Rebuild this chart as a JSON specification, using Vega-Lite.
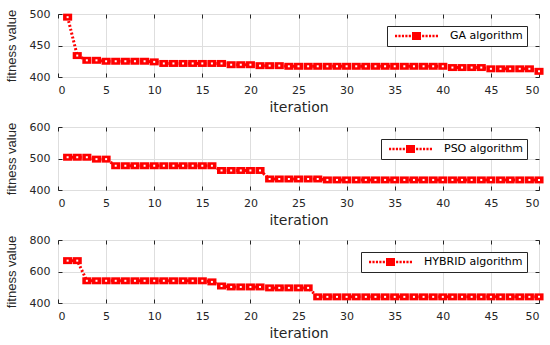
{
  "$schema": "https://vega.github.io/schema/vega-lite/v6.json",
  "padding": {"left": 4, "top": 7, "right": 5, "bottom": 0},
  "background": "white",
  "spacing": 50,
  "bounds": "flush",
  "datasets": {
    "ga": [
      {"it": 1, "f": 495, "alg": "GA algorithm"},
      {"it": 2, "f": 434, "alg": "GA algorithm"},
      {"it": 3, "f": 426.5, "alg": "GA algorithm"},
      {"it": 4, "f": 426.5, "alg": "GA algorithm"},
      {"it": 5, "f": 425, "alg": "GA algorithm"},
      {"it": 6, "f": 425, "alg": "GA algorithm"},
      {"it": 7, "f": 425, "alg": "GA algorithm"},
      {"it": 8, "f": 425, "alg": "GA algorithm"},
      {"it": 9, "f": 425, "alg": "GA algorithm"},
      {"it": 10, "f": 424, "alg": "GA algorithm"},
      {"it": 11, "f": 421.5, "alg": "GA algorithm"},
      {"it": 12, "f": 421.5, "alg": "GA algorithm"},
      {"it": 13, "f": 421.5, "alg": "GA algorithm"},
      {"it": 14, "f": 421.5, "alg": "GA algorithm"},
      {"it": 15, "f": 421.5, "alg": "GA algorithm"},
      {"it": 16, "f": 421.5, "alg": "GA algorithm"},
      {"it": 17, "f": 421.5, "alg": "GA algorithm"},
      {"it": 18, "f": 419.5, "alg": "GA algorithm"},
      {"it": 19, "f": 419.5, "alg": "GA algorithm"},
      {"it": 20, "f": 419.5, "alg": "GA algorithm"},
      {"it": 21, "f": 418, "alg": "GA algorithm"},
      {"it": 22, "f": 418, "alg": "GA algorithm"},
      {"it": 23, "f": 418, "alg": "GA algorithm"},
      {"it": 24, "f": 417, "alg": "GA algorithm"},
      {"it": 25, "f": 417, "alg": "GA algorithm"},
      {"it": 26, "f": 417, "alg": "GA algorithm"},
      {"it": 27, "f": 417, "alg": "GA algorithm"},
      {"it": 28, "f": 417, "alg": "GA algorithm"},
      {"it": 29, "f": 417, "alg": "GA algorithm"},
      {"it": 30, "f": 417, "alg": "GA algorithm"},
      {"it": 31, "f": 417, "alg": "GA algorithm"},
      {"it": 32, "f": 417, "alg": "GA algorithm"},
      {"it": 33, "f": 417, "alg": "GA algorithm"},
      {"it": 34, "f": 417, "alg": "GA algorithm"},
      {"it": 35, "f": 417, "alg": "GA algorithm"},
      {"it": 36, "f": 417, "alg": "GA algorithm"},
      {"it": 37, "f": 417, "alg": "GA algorithm"},
      {"it": 38, "f": 417, "alg": "GA algorithm"},
      {"it": 39, "f": 417, "alg": "GA algorithm"},
      {"it": 40, "f": 417, "alg": "GA algorithm"},
      {"it": 41, "f": 415, "alg": "GA algorithm"},
      {"it": 42, "f": 415, "alg": "GA algorithm"},
      {"it": 43, "f": 415, "alg": "GA algorithm"},
      {"it": 44, "f": 415, "alg": "GA algorithm"},
      {"it": 45, "f": 413, "alg": "GA algorithm"},
      {"it": 46, "f": 413, "alg": "GA algorithm"},
      {"it": 47, "f": 413, "alg": "GA algorithm"},
      {"it": 48, "f": 413, "alg": "GA algorithm"},
      {"it": 49, "f": 413, "alg": "GA algorithm"},
      {"it": 50, "f": 409, "alg": "GA algorithm"}
    ],
    "pso": [
      {"it": 1, "f": 504, "alg": "PSO algorithm"},
      {"it": 2, "f": 504, "alg": "PSO algorithm"},
      {"it": 3, "f": 504, "alg": "PSO algorithm"},
      {"it": 4, "f": 498, "alg": "PSO algorithm"},
      {"it": 5, "f": 498, "alg": "PSO algorithm"},
      {"it": 6, "f": 477, "alg": "PSO algorithm"},
      {"it": 7, "f": 477, "alg": "PSO algorithm"},
      {"it": 8, "f": 477, "alg": "PSO algorithm"},
      {"it": 9, "f": 477, "alg": "PSO algorithm"},
      {"it": 10, "f": 477, "alg": "PSO algorithm"},
      {"it": 11, "f": 477, "alg": "PSO algorithm"},
      {"it": 12, "f": 477, "alg": "PSO algorithm"},
      {"it": 13, "f": 477, "alg": "PSO algorithm"},
      {"it": 14, "f": 477, "alg": "PSO algorithm"},
      {"it": 15, "f": 477, "alg": "PSO algorithm"},
      {"it": 16, "f": 477, "alg": "PSO algorithm"},
      {"it": 17, "f": 462, "alg": "PSO algorithm"},
      {"it": 18, "f": 462, "alg": "PSO algorithm"},
      {"it": 19, "f": 462, "alg": "PSO algorithm"},
      {"it": 20, "f": 462, "alg": "PSO algorithm"},
      {"it": 21, "f": 462, "alg": "PSO algorithm"},
      {"it": 22, "f": 435, "alg": "PSO algorithm"},
      {"it": 23, "f": 435, "alg": "PSO algorithm"},
      {"it": 24, "f": 435, "alg": "PSO algorithm"},
      {"it": 25, "f": 435, "alg": "PSO algorithm"},
      {"it": 26, "f": 435, "alg": "PSO algorithm"},
      {"it": 27, "f": 435, "alg": "PSO algorithm"},
      {"it": 28, "f": 432, "alg": "PSO algorithm"},
      {"it": 29, "f": 432, "alg": "PSO algorithm"},
      {"it": 30, "f": 432, "alg": "PSO algorithm"},
      {"it": 31, "f": 432, "alg": "PSO algorithm"},
      {"it": 32, "f": 432, "alg": "PSO algorithm"},
      {"it": 33, "f": 432, "alg": "PSO algorithm"},
      {"it": 34, "f": 432, "alg": "PSO algorithm"},
      {"it": 35, "f": 432, "alg": "PSO algorithm"},
      {"it": 36, "f": 432, "alg": "PSO algorithm"},
      {"it": 37, "f": 432, "alg": "PSO algorithm"},
      {"it": 38, "f": 432, "alg": "PSO algorithm"},
      {"it": 39, "f": 432, "alg": "PSO algorithm"},
      {"it": 40, "f": 432, "alg": "PSO algorithm"},
      {"it": 41, "f": 432, "alg": "PSO algorithm"},
      {"it": 42, "f": 432, "alg": "PSO algorithm"},
      {"it": 43, "f": 432, "alg": "PSO algorithm"},
      {"it": 44, "f": 432, "alg": "PSO algorithm"},
      {"it": 45, "f": 432, "alg": "PSO algorithm"},
      {"it": 46, "f": 432, "alg": "PSO algorithm"},
      {"it": 47, "f": 432, "alg": "PSO algorithm"},
      {"it": 48, "f": 432, "alg": "PSO algorithm"},
      {"it": 49, "f": 432, "alg": "PSO algorithm"},
      {"it": 50, "f": 432, "alg": "PSO algorithm"}
    ],
    "hybrid": [
      {"it": 1, "f": 669, "alg": "HYBRID algorithm"},
      {"it": 2, "f": 669, "alg": "HYBRID algorithm"},
      {"it": 3, "f": 541, "alg": "HYBRID algorithm"},
      {"it": 4, "f": 541, "alg": "HYBRID algorithm"},
      {"it": 5, "f": 541, "alg": "HYBRID algorithm"},
      {"it": 6, "f": 541, "alg": "HYBRID algorithm"},
      {"it": 7, "f": 541, "alg": "HYBRID algorithm"},
      {"it": 8, "f": 541, "alg": "HYBRID algorithm"},
      {"it": 9, "f": 541, "alg": "HYBRID algorithm"},
      {"it": 10, "f": 541, "alg": "HYBRID algorithm"},
      {"it": 11, "f": 541, "alg": "HYBRID algorithm"},
      {"it": 12, "f": 541, "alg": "HYBRID algorithm"},
      {"it": 13, "f": 541, "alg": "HYBRID algorithm"},
      {"it": 14, "f": 541, "alg": "HYBRID algorithm"},
      {"it": 15, "f": 541, "alg": "HYBRID algorithm"},
      {"it": 16, "f": 534, "alg": "HYBRID algorithm"},
      {"it": 17, "f": 508, "alg": "HYBRID algorithm"},
      {"it": 18, "f": 502, "alg": "HYBRID algorithm"},
      {"it": 19, "f": 502, "alg": "HYBRID algorithm"},
      {"it": 20, "f": 502, "alg": "HYBRID algorithm"},
      {"it": 21, "f": 502, "alg": "HYBRID algorithm"},
      {"it": 22, "f": 496, "alg": "HYBRID algorithm"},
      {"it": 23, "f": 496, "alg": "HYBRID algorithm"},
      {"it": 24, "f": 496, "alg": "HYBRID algorithm"},
      {"it": 25, "f": 496, "alg": "HYBRID algorithm"},
      {"it": 26, "f": 496, "alg": "HYBRID algorithm"},
      {"it": 27, "f": 439, "alg": "HYBRID algorithm"},
      {"it": 28, "f": 439, "alg": "HYBRID algorithm"},
      {"it": 29, "f": 439, "alg": "HYBRID algorithm"},
      {"it": 30, "f": 439, "alg": "HYBRID algorithm"},
      {"it": 31, "f": 439, "alg": "HYBRID algorithm"},
      {"it": 32, "f": 439, "alg": "HYBRID algorithm"},
      {"it": 33, "f": 439, "alg": "HYBRID algorithm"},
      {"it": 34, "f": 439, "alg": "HYBRID algorithm"},
      {"it": 35, "f": 439, "alg": "HYBRID algorithm"},
      {"it": 36, "f": 439, "alg": "HYBRID algorithm"},
      {"it": 37, "f": 439, "alg": "HYBRID algorithm"},
      {"it": 38, "f": 439, "alg": "HYBRID algorithm"},
      {"it": 39, "f": 439, "alg": "HYBRID algorithm"},
      {"it": 40, "f": 439, "alg": "HYBRID algorithm"},
      {"it": 41, "f": 439, "alg": "HYBRID algorithm"},
      {"it": 42, "f": 439, "alg": "HYBRID algorithm"},
      {"it": 43, "f": 439, "alg": "HYBRID algorithm"},
      {"it": 44, "f": 439, "alg": "HYBRID algorithm"},
      {"it": 45, "f": 439, "alg": "HYBRID algorithm"},
      {"it": 46, "f": 439, "alg": "HYBRID algorithm"},
      {"it": 47, "f": 439, "alg": "HYBRID algorithm"},
      {"it": 48, "f": 439, "alg": "HYBRID algorithm"},
      {"it": 49, "f": 439, "alg": "HYBRID algorithm"},
      {"it": 50, "f": 439, "alg": "HYBRID algorithm"}
    ]
  },
  "vconcat": [
    {
      "width": 481, "height": 63,
      "data": {"name": "ga"},
      "layer": [
        {
          "mark": {"type": "line", "color": "#ff0000", "strokeWidth": 3, "strokeDash": [2, 2], "strokeCap": "butt"},
          "encoding": {
            "x": {"field": "it", "type": "quantitative", "scale": {"domain": [0, 50], "nice": false}, "axis": {"orient": "bottom", "values": [0,5,10,15,20,25,30,35,40,45,50], "title": "iteration"}},
            "y": {"field": "f", "type": "quantitative", "scale": {"domain": [400, 500], "nice": false, "zero": false}, "axis": {"orient": "left", "values": [400, 450, 500], "title": "fitness value"}}
          }
        },
        {
          "mark": {"type": "point", "filled": true, "shape": "M-1.3,-1H1.3V1H-1.3Z", "size": 49, "opacity": 1, "strokeWidth": 0},
          "encoding": {
            "x": {"field": "it", "type": "quantitative", "axis": {"orient": "top", "values": [0,5,10,15,20,25,30,35,40,45,50], "labels": false, "grid": false, "title": null}},
            "y": {"field": "f", "type": "quantitative", "axis": {"orient": "right", "values": [400, 450, 500], "labels": false, "grid": false, "title": null}},
            "color": {"field": "alg", "type": "nominal", "scale": {"range": ["#ff0000"]}, "legend": {"orient": "top-right", "offset": 12}}
          }
        },
        {
          "mark": {"type": "point", "filled": true, "shape": "square", "size": 4, "color": "white", "opacity": 1},
          "encoding": {
            "x": {"field": "it", "type": "quantitative", "axis": null},
            "y": {"field": "f", "type": "quantitative", "axis": null}
          }
        }
      ],
      "resolve": {"axis": {"x": "independent", "y": "independent"}}
    },
    {
      "width": 481, "height": 63,
      "data": {"name": "pso"},
      "layer": [
        {
          "mark": {"type": "line", "color": "#ff0000", "strokeWidth": 3, "strokeDash": [2, 2], "strokeCap": "butt"},
          "encoding": {
            "x": {"field": "it", "type": "quantitative", "scale": {"domain": [0, 50], "nice": false}, "axis": {"orient": "bottom", "values": [0,5,10,15,20,25,30,35,40,45,50], "title": "iteration"}},
            "y": {"field": "f", "type": "quantitative", "scale": {"domain": [400, 600], "nice": false, "zero": false}, "axis": {"orient": "left", "values": [400, 500, 600], "title": "fitness value"}}
          }
        },
        {
          "mark": {"type": "point", "filled": true, "shape": "M-1.3,-1H1.3V1H-1.3Z", "size": 49, "opacity": 1, "strokeWidth": 0},
          "encoding": {
            "x": {"field": "it", "type": "quantitative", "axis": {"orient": "top", "values": [0,5,10,15,20,25,30,35,40,45,50], "labels": false, "grid": false, "title": null}},
            "y": {"field": "f", "type": "quantitative", "axis": {"orient": "right", "values": [400, 500, 600], "labels": false, "grid": false, "title": null}},
            "color": {"field": "alg", "type": "nominal", "scale": {"range": ["#ff0000"]}, "legend": {"orient": "top-right", "offset": 12}}
          }
        },
        {
          "mark": {"type": "point", "filled": true, "shape": "square", "size": 4, "color": "white", "opacity": 1},
          "encoding": {
            "x": {"field": "it", "type": "quantitative", "axis": null},
            "y": {"field": "f", "type": "quantitative", "axis": null}
          }
        }
      ],
      "resolve": {"axis": {"x": "independent", "y": "independent"}}
    },
    {
      "width": 481, "height": 63,
      "data": {"name": "hybrid"},
      "layer": [
        {
          "mark": {"type": "line", "color": "#ff0000", "strokeWidth": 3, "strokeDash": [2, 2], "strokeCap": "butt"},
          "encoding": {
            "x": {"field": "it", "type": "quantitative", "scale": {"domain": [0, 50], "nice": false}, "axis": {"orient": "bottom", "values": [0,5,10,15,20,25,30,35,40,45,50], "title": "iteration"}},
            "y": {"field": "f", "type": "quantitative", "scale": {"domain": [400, 800], "nice": false, "zero": false}, "axis": {"orient": "left", "values": [400, 600, 800], "title": "fitness value"}}
          }
        },
        {
          "mark": {"type": "point", "filled": true, "shape": "M-1.3,-1H1.3V1H-1.3Z", "size": 49, "opacity": 1, "strokeWidth": 0},
          "encoding": {
            "x": {"field": "it", "type": "quantitative", "axis": {"orient": "top", "values": [0,5,10,15,20,25,30,35,40,45,50], "labels": false, "grid": false, "title": null}},
            "y": {"field": "f", "type": "quantitative", "axis": {"orient": "right", "values": [400, 600, 800], "labels": false, "grid": false, "title": null}},
            "color": {"field": "alg", "type": "nominal", "scale": {"range": ["#ff0000"]}, "legend": {"orient": "top-right", "offset": 12}}
          }
        },
        {
          "mark": {"type": "point", "filled": true, "shape": "square", "size": 4, "color": "white", "opacity": 1},
          "encoding": {
            "x": {"field": "it", "type": "quantitative", "axis": null},
            "y": {"field": "f", "type": "quantitative", "axis": null}
          }
        }
      ],
      "resolve": {"axis": {"x": "independent", "y": "independent"}}
    }
  ],
  "resolve": {"scale": {"color": "independent"}, "legend": {"color": "independent"}},
  "config": {
    "view": {"stroke": "#262626", "strokeWidth": 1},
    "axis": {
      "domain": false,
      "tickSize": -4,
      "tickColor": "#262626",
      "tickWidth": 1,
      "gridColor": "#dedede",
      "gridWidth": 1,
      "labelFont": "DejaVu Sans",
      "labelFontSize": 11,
      "labelColor": "#262626",
      "titleColor": "#262626",
      "titleFontWeight": "normal"
    },
    "axisX": {"labelPadding": 11, "titleFont": "DejaVu Sans", "titleFontSize": 14, "titlePadding": 5},
    "axisY": {"labelPadding": 12, "titleFont": "Liberation Sans", "titleFontSize": 13, "titlePadding": 11},
    "legend": {
      "title": null,
      "strokeColor": "#262626",
      "fillColor": "white",
      "padding": 4,
      "labelFont": "DejaVu Sans",
      "labelFontSize": 11,
      "labelColor": "black",
      "symbolType": "M-1,-0.06H-0.9V0.06H-1Z M-0.84,-0.06H-0.74V0.06H-0.84Z M-0.68,-0.06H-0.58V0.06H-0.68Z M-0.52,-0.06H-0.42V0.06H-0.52Z M-0.36,-0.06H-0.26V0.06H-0.36Z M-0.21,-0.19H0.21V0.19H-0.21Z M0.26,-0.06H0.36V0.06H0.26Z M0.42,-0.06H0.52V0.06H0.42Z M0.58,-0.06H0.68V0.06H0.58Z M0.74,-0.06H0.84V0.06H0.74Z M0.9,-0.06H1V0.06H0.9Z",
      "symbolSize": 1849,
      "symbolStrokeWidth": 0,
      "symbolOffset": 4,
      "labelOffset": 12,
      "clipHeight": 12,
      "labelExpr": "datum.label + ' '"
    }
  }
}
